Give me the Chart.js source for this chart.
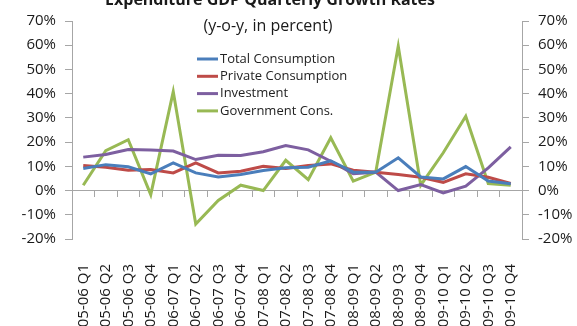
<!DOCTYPE html>
<html>
<head>
<meta charset="utf-8">
<script src="https://cdn.jsdelivr.net/npm/chart.js@4"></script>
<style>
  html, body { margin: 0; padding: 0; background: #fff; }
  #wrap { width: 577px; height: 326px; }
</style>
</head>
<body>
<div id="wrap"><canvas id="gdpChart"></canvas></div>
<script>
const quarters = ['05-06 Q1', '05-06 Q2', '05-06 Q3', '05-06 Q4', '06-07 Q1', '06-07 Q2', '06-07 Q3', '06-07 Q4',
    '07-08 Q1', '07-08 Q2', '07-08 Q3', '07-08 Q4', '08-09 Q1', '08-09 Q2', '08-09 Q3', '08-09 Q4',
    '09-10 Q1', '09-10 Q2', '09-10 Q3', '09-10 Q4'];
const totalConsumption = [9.1, 10.7, 9.8, 6.9, 11.4, 7.3, 5.6, 6.6, 8.3, 9.4, 9.6, 12.3, 7.6, 7.6, 13.5, 5.6, 4.8, 9.9, 3.9, 2.8];
const privateConsumption = [10.3, 9.6, 8.4, 8.7, 7.3, 11.4, 7.3, 8.0, 10.0, 9.1, 10.3, 11.0, 8.4, 7.6, 6.6, 5.5, 3.4, 6.9, 5.5, 2.9];
const investment = [13.8, 14.9, 16.9, 16.7, 16.3, 12.8, 14.6, 14.5, 16.0, 18.6, 16.8, 12.1, 6.9, 7.6, 0.0, 2.5, -1.0, 1.8, 9.4, 18.0];
const governmentCons = [2.2, 16.5, 21.0, -1.7, 40.8, -13.8, -4.1, 2.2, 0.0, 12.5, 4.5, 21.8, 3.9, 7.6, 59.6, 2.2, 15.6, 30.7, 2.9, 2.2];

const FONT = '"Open Sans", "DejaVu Sans", sans-serif';
const AXIS_GREY = '#a6a6a6';

// title + subtitle, drawn on the canvas
const titlePlugin = {
    id: 'titlePlugin',
    afterDraw(chart) {
        const ctx = chart.ctx;
        ctx.save();
        ctx.fillStyle = '#1a1a1a';
        ctx.textAlign = 'center';
        ctx.textBaseline = 'alphabetic';
        ctx.font = 'bold 16px ' + FONT;
        ctx.fillText('Expenditure GDP Quarterly Growth Rates', 270, 5);
        ctx.textBaseline = 'middle';
        ctx.font = '16px ' + FONT;
        ctx.fillText('(y-o-y, in percent)', 268, 26);
        ctx.restore();
    }
};

// legend inside the plot area
const legendPlugin = {
    id: 'legendPlugin',
    afterDraw(chart) {
        const ctx = chart.ctx;
        ctx.save();
        ctx.font = '13px ' + FONT;
        ctx.textBaseline = 'middle';
        chart.data.datasets.forEach((ds, i) => {
            const y = 59 + i * 17.3;
            ctx.strokeStyle = ds.borderColor;
            ctx.lineWidth = 3;
            ctx.beginPath();
            ctx.moveTo(197, y);
            ctx.lineTo(218, y);
            ctx.stroke();
            ctx.fillStyle = '#222';
            ctx.fillText(ds.label, 220, y);
        });
        ctx.restore();
    }
};

function makeSet(label, data, color) {
    return {
        label: label,
        data: data,
        borderColor: color,
        backgroundColor: color,
        borderWidth: 3,
        pointRadius: 0,
        tension: 0,
        yAxisID: 'y'
    };
}

const ctx = document.getElementById('gdpChart').getContext('2d');

new Chart(ctx, {
    type: 'line',
    data: {
        labels: quarters,
        datasets: [
            makeSet('Total Consumption', totalConsumption, '#4a7ebb'),
            makeSet('Private Consumption', privateConsumption, '#be4b48'),
            makeSet('Investment', investment, '#7d5fa0'),
            makeSet('Government Cons.', governmentCons, '#98b954')
        ]
    },
    options: {
        responsive: true,
        maintainAspectRatio: false,
        animation: false,
        layout: { padding: { top: 21, right: 0, left: 0, bottom: 0 } },
        plugins: {
            legend: { display: false },
            tooltip: { enabled: false }
        },
        scales: {
            x: {
                position: 'bottom',
                offset: true,
                grid: { display: false },
                border: { display: false },
                ticks: {
                    minRotation: 90,
                    maxRotation: 90,
                    autoSkip: false,
                    padding: 17,
                    color: '#1a1a1a',
                    font: { family: FONT, size: 15 }
                },
                afterFit: (scale) => { scale.height = 87; }
            },
            x0: {
                type: 'category',
                position: { y: 0 },
                offset: true,
                grid: {
                    offset: true,
                    drawOnChartArea: false,
                    drawTicks: true,
                    tickLength: 6,
                    color: AXIS_GREY
                },
                border: { display: true, color: AXIS_GREY, width: 1 },
                ticks: { display: false }
            },
            y: {
                position: 'left',
                min: -20,
                max: 70,
                grid: { drawOnChartArea: false, tickLength: 7, color: AXIS_GREY },
                border: { color: AXIS_GREY },
                ticks: {
                    stepSize: 10,
                    padding: 9,
                    color: '#1a1a1a',
                    font: { family: FONT, size: 15 },
                    callback: (v) => v + '%'
                },
                afterFit: (scale) => { scale.width = 72; }
            },
            y2: {
                display: true,
                position: 'right',
                min: -20,
                max: 70,
                grid: { drawOnChartArea: false, tickLength: 7, color: AXIS_GREY },
                border: { color: AXIS_GREY },
                ticks: {
                    stepSize: 10,
                    padding: 9,
                    color: '#1a1a1a',
                    font: { family: FONT, size: 15 },
                    callback: (v) => v + '%'
                },
                afterFit: (scale) => { scale.width = 55; }
            }
        }
    },
    plugins: [titlePlugin, legendPlugin]
});
</script>
</body>
</html>
